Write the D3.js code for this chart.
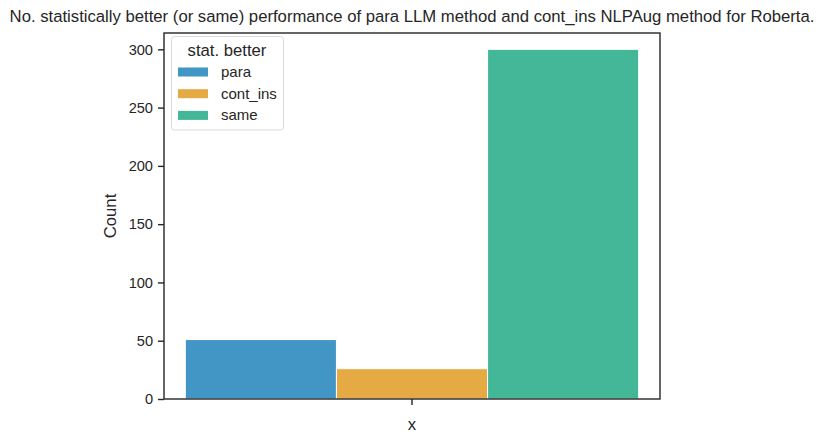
<!DOCTYPE html>
<html><head><meta charset="utf-8">
<script src="https://cdn.jsdelivr.net/npm/d3@7"></script>
<style>body{margin:0;background:#fff}svg{display:block}text{font-family:"Liberation Sans",Arial,sans-serif;fill:#262626}</style>
</head><body><svg id="c" width="823" height="443"></svg>
<script>
const categories = ["para", "cont_ins", "same"];
const counts = [51, 26, 300];
const colors = ["#4296c6", "#e6aa45", "#44b799"];
const yTicks = [0, 50, 100, 150, 200, 250, 300];
const xLabels = ["x"];
const title = "No. statistically better (or same) performance of para LLM method and cont_ins NLPAug method for Roberta.";

const svg = d3.select("#c");
const L = 164, R = 660, T = 33, B = 399;
const y = d3.scaleLinear().domain([0, 314]).range([B, T]);
const xc = d3.scaleBand().domain(xLabels).range([L, R]).paddingOuter(0.047).paddingInner(0);
const xs = d3.scaleBand().domain(categories).range([xc(xLabels[0]), xc(xLabels[0]) + xc.bandwidth()]);

svg.append("g").selectAll("rect").data(categories).join("rect")
  .attr("x", d => xs(d)).attr("width", xs.bandwidth())
  .attr("y", (d, i) => y(counts[i])).attr("height", (d, i) => y(0) - y(counts[i]))
  .attr("fill", (d, i) => colors[i]).attr("stroke", "#fff").attr("stroke-width", 1);

const yAx = svg.append("g").attr("transform", `translate(${L},0)`)
  .call(d3.axisLeft(y).tickValues(yTicks).tickSize(6).tickPadding(5));
const xAx = svg.append("g").attr("transform", `translate(0,${B})`)
  .call(d3.axisBottom(xc).tickSize(6).tickFormat(() => ""));
[yAx, xAx].forEach(g => {
  g.select(".domain").remove();
  g.selectAll("line").attr("stroke", "#262626").attr("stroke-width", 1.4);
  g.selectAll("text").style("font-size", "14.6px").style("fill", "#262626").attr("font-family", null);
});
svg.append("rect").attr("x", L).attr("y", T).attr("width", R - L).attr("height", B - T)
  .attr("fill", "none").attr("stroke", "#262626").attr("stroke-width", 1.4);

svg.append("text").attr("x", 412).attr("y", 22).attr("text-anchor", "middle").style("font-size", "16.7px").text(title);
svg.append("text").attr("x", 412).attr("y", 430).attr("text-anchor", "middle").style("font-size", "16.7px").text("x");
svg.append("text").attr("transform", `translate(116,${(T + B) / 2}) rotate(-90)`).attr("text-anchor", "middle").style("font-size", "16.7px").text("Count");

const lg = svg.append("g");
lg.append("rect").attr("x", 171.5).attr("y", 36.5).attr("width", 112).attr("height", 93.5).attr("rx", 3)
  .attr("fill", "#fff").attr("fill-opacity", 0.8).attr("stroke", "#d9d9d9").attr("stroke-width", 1);
lg.append("text").attr("x", 227).attr("y", 56).attr("text-anchor", "middle").style("font-size", "16.7px").text("stat. better");
categories.forEach((c, i) => {
  const cy = 72 + i * 21.7;
  lg.append("rect").attr("x", 178).attr("y", cy - 4.5).attr("width", 30).attr("height", 9).attr("fill", colors[i]);
  lg.append("text").attr("x", 221).attr("y", cy + 5).style("font-size", "15px").text(c);
});
</script></body></html>
